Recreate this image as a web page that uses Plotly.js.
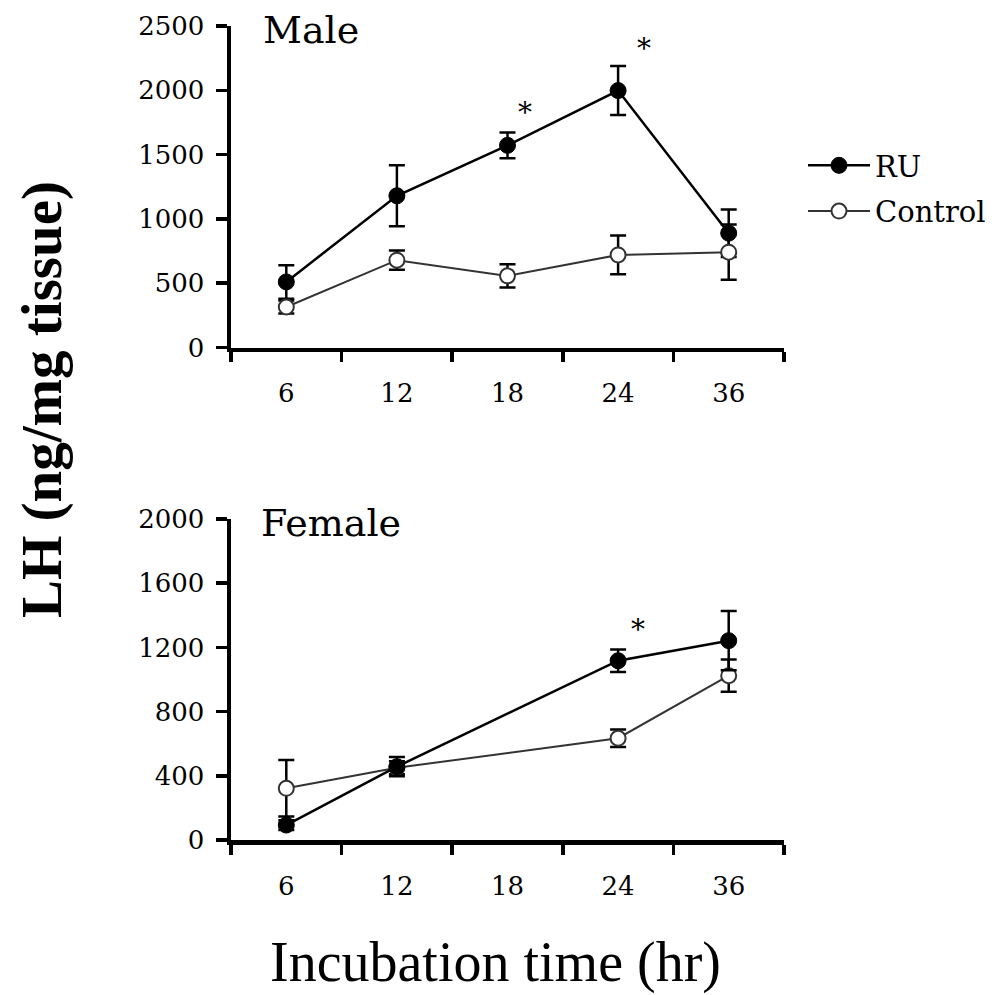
<!DOCTYPE html>
<html>
<head>
<meta charset="utf-8">
<script src="https://cdn.plot.ly/plotly-3.0.1.min.js"></script>
<style>html,body{margin:0;padding:0;background:#fff;}</style>
</head>
<body>
<div id="chart" style="width:997px;height:995px;"></div>
<script>
// Data
var categories = ['6', '12', '18', '24', '36'];

var maleX = ['6', '12', '18', '24', '36'];
var maleRU = [510, 1180, 1572, 1998, 889];
var maleRUerr = [130, 237, 100, 190, 185];
var maleCtrl = [315, 679, 557, 720, 741];
var maleCtrlErr = [50, 75, 90, 150, 215];

var femaleX = ['6', '12', '24', '36'];
var femaleRU = [93, 457, 1117, 1242];
var femaleRUerr = [30, 60, 70, 185];
var femaleCtrl = [322, 450, 634, 1024];
var femaleCtrlErr = [176, 40, 55, 100];

var sigMaleX = ['18', '24'];
var sigMaleY = [1873, 2371];
var sigFemaleX = ['24'];
var sigFemaleY = [1352];

var W = 997, H = 995;
function px(x) { return x / W; }
function py(y) { return 1 - y / H; }

var serif = 'DejaVu Serif, serif';

function ruTrace(x, y, e, xa, ya, show) {
  return {
    x: x, y: y, type: 'scatter', mode: 'lines+markers', name: 'RU',
    xaxis: xa, yaxis: ya, showlegend: show, legendgroup: 'ru',
    line: {color: '#000', width: 2.5},
    marker: {color: '#000', size: 16, symbol: 'circle', line: {color: '#000', width: 1}},
    error_y: {type: 'data', array: e, visible: true, color: '#000', thickness: 2.5, width: 8}
  };
}
function ctrlTrace(x, y, e, xa, ya, show) {
  return {
    x: x, y: y, type: 'scatter', mode: 'lines+markers', name: 'Control',
    xaxis: xa, yaxis: ya, showlegend: show, legendgroup: 'ctrl',
    line: {color: '#333', width: 2},
    marker: {color: '#fff', size: 15, symbol: 'circle', line: {color: '#333', width: 2}},
    error_y: {type: 'data', array: e, visible: true, color: '#000', thickness: 2.5, width: 8}
  };
}

var data = [
  ctrlTrace(femaleX, femaleCtrl, femaleCtrlErr, 'x2', 'y2', false),
  ruTrace(femaleX, femaleRU, femaleRUerr, 'x2', 'y2', false),
  ruTrace(maleX, maleRU, maleRUerr, 'x', 'y', true),
  ctrlTrace(maleX, maleCtrl, maleCtrlErr, 'x', 'y', true)
];

var xDomain = [px(231), px(784)];

function xAxis(anchor) {
  return {
    type: 'category', categoryorder: 'array', categoryarray: categories,
    range: [-0.5, 4.5], domain: xDomain, anchor: anchor,
    tickson: 'boundaries', ticks: 'outside', ticklen: 10, tickwidth: 3.5, tickcolor: '#000',
    showline: true, linecolor: '#000', linewidth: 4.5,
    showgrid: false, zeroline: false, fixedrange: true,
    tickfont: {family: serif, size: 26, color: '#000'},
    ticklabelstandoff: 19
  };
}
function yAxis(anchor, dom, max, dt) {
  return {
    domain: dom, anchor: anchor, range: [0, max], dtick: dt, tick0: 0,
    ticks: 'outside', ticklen: 11, tickwidth: 3.5, tickcolor: '#000',
    showline: true, linecolor: '#000', linewidth: 4.5,
    showgrid: false, zeroline: false, fixedrange: true,
    tickfont: {family: serif, size: 26, color: '#000'},
    ticklabelstandoff: 6
  };
}

var annotations = [];
var sigShiftMale = [17, 26];
for (var i = 0; i < sigMaleX.length; i++) {
  annotations.push({x: categories.indexOf(sigMaleX[i]), y: sigMaleY[i], xref: 'x', yref: 'y', text: '*', showarrow: false,
    xshift: sigShiftMale[i], yshift: -6, font: {family: serif, size: 28, color: '#000'}});
}
for (var j = 0; j < sigFemaleX.length; j++) {
  annotations.push({x: categories.indexOf(sigFemaleX[j]), y: sigFemaleY[j], xref: 'x2', yref: 'y2', text: '*', showarrow: false,
    xshift: 20, yshift: -6, font: {family: serif, size: 28, color: '#000'}});
}
annotations.push({xref: 'paper', yref: 'paper', x: px(261), y: py(30), xanchor: 'left', yanchor: 'middle',
  text: 'Male', showarrow: false, font: {family: serif, size: 38, color: '#000'}});
annotations.push({xref: 'paper', yref: 'paper', x: px(259), y: py(523), xanchor: 'left', yanchor: 'middle',
  text: 'Female', showarrow: false, font: {family: serif, size: 38, color: '#000'}});
annotations.push({xref: 'paper', yref: 'paper', x: px(42), y: py(400), xanchor: 'center', yanchor: 'middle',
  text: '<b>LH (ng/mg tissue)</b>', textangle: -90, showarrow: false,
  font: {family: 'Liberation Serif, serif', size: 57, color: '#000'}});
annotations.push({xref: 'paper', yref: 'paper', x: px(495), y: py(962), xanchor: 'center', yanchor: 'middle',
  text: 'Incubation time (hr)', showarrow: false,
  font: {family: 'Liberation Serif, serif', size: 56, color: '#000'}});

var layout = {
  width: W, height: H,
  margin: {l: 0, r: 0, t: 0, b: 0, autoexpand: false},
  paper_bgcolor: '#fff', plot_bgcolor: 'rgba(0,0,0,0)',
  showlegend: true,
  legend: {x: px(803), y: py(140), xanchor: 'left', yanchor: 'top',
    font: {family: serif, size: 29, color: '#000'}, bgcolor: 'rgba(0,0,0,0)',
    itemwidth: 62, tracegroupgap: 5, traceorder: 'grouped'},
  xaxis: xAxis('y'),
  yaxis: yAxis('x', [py(347.5), py(26)], 2500, 500),
  xaxis2: xAxis('y2'),
  yaxis2: yAxis('x2', [py(840), py(519)], 2000, 400),
  annotations: annotations
};

Plotly.newPlot('chart', data, layout, {displayModeBar: false, staticPlot: true});
</script>
</body>
</html>
